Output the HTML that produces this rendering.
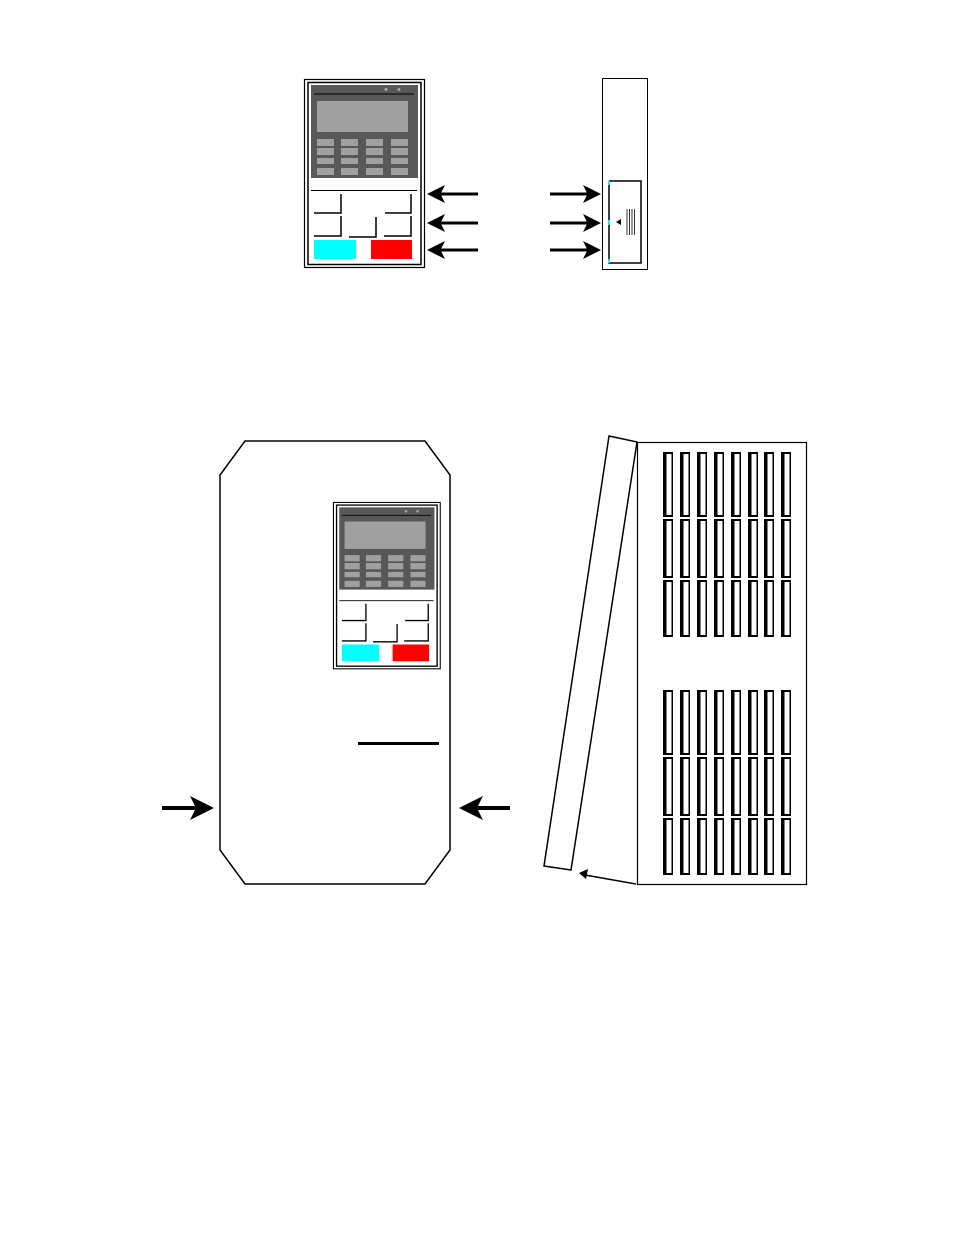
<!DOCTYPE html>
<html><head><style>body{margin:0;background:#fff}svg{display:block}</style></head>
<body>
<svg width="954" height="1235" viewBox="0 0 954 1235" xmlns="http://www.w3.org/2000/svg">
<defs>
<marker id="ah" markerWidth="6" markerHeight="6" refX="5" refY="3" orient="auto" markerUnits="strokeWidth"><path d="M0,0 L6,3 L0,6 L1.5,3 Z" fill="#000"/></marker>
<g id="kp">
  <rect x="304.5" y="79.5" width="120" height="188" fill="#fff" stroke="#000" stroke-width="1.2"/>
  <rect x="308" y="82.5" width="113" height="182" fill="none" stroke="#000" stroke-width="1.5"/>
  <rect x="311" y="85" width="107" height="93" fill="#585858"/>
  <line x1="314" y1="94" x2="414" y2="94" stroke="#000" stroke-width="1"/>
  <circle cx="386" cy="89.5" r="1.5" fill="#aaa"/><circle cx="399" cy="89.5" r="1.5" fill="#aaa"/>
  <rect x="317" y="101" width="91" height="31" fill="#a0a0a0"/>
  <g fill="#a0a0a0">
   <rect x="317" y="139" width="17" height="7"/><rect x="341" y="139" width="17" height="7"/><rect x="366" y="139" width="17" height="7"/><rect x="391" y="139" width="17" height="7"/>
   <rect x="317" y="148" width="17" height="7"/><rect x="341" y="148" width="17" height="7"/><rect x="366" y="148" width="17" height="7"/><rect x="391" y="148" width="17" height="7"/>
   <rect x="317" y="158" width="17" height="6"/><rect x="341" y="158" width="17" height="6"/><rect x="366" y="158" width="17" height="6"/><rect x="391" y="158" width="17" height="6"/>
   <rect x="317" y="168" width="17" height="7"/><rect x="341" y="168" width="17" height="7"/><rect x="366" y="168" width="17" height="7"/><rect x="391" y="168" width="17" height="7"/>
  </g>
  <line x1="311" y1="190.5" x2="417" y2="190.5" stroke="#000" stroke-width="1"/>
  <g fill="none" stroke="#000" stroke-width="1.5">
   <polyline points="314,213 341,213 341,194"/>
   <polyline points="385,213 411,213 411,194"/>
   <polyline points="314,236 341,236 341,216"/>
   <polyline points="349,237 376,237 376,217"/>
   <polyline points="384,236 411,236 411,216"/>
  </g>
  <rect x="314" y="240" width="42" height="19" fill="#00ffff"/>
  <rect x="371" y="240" width="41" height="19" fill="#ff0000"/>
</g>
<g id="col">
  <rect x="0" y="0" width="10" height="65" fill="#000"/><rect x="3.5" y="2" width="5" height="61" fill="#fff"/>
  <rect x="0" y="67" width="10" height="59" fill="#000"/><rect x="3.5" y="69" width="5" height="55" fill="#fff"/>
  <rect x="0" y="128" width="10" height="57" fill="#000"/><rect x="3.5" y="130" width="5" height="53" fill="#fff"/>
</g>
<g id="cols">
  <use href="#col" x="0"/><use href="#col" x="17"/><use href="#col" x="34"/><use href="#col" x="51"/>
  <use href="#col" x="68"/><use href="#col" x="85"/><use href="#col" x="101"/><use href="#col" x="118"/>
</g>
</defs>

<!-- top front keypad -->
<use href="#kp"/>

<!-- top arrows -->
<g stroke="#000" stroke-width="3" marker-end="url(#ah)">
  <line x1="478" y1="194" x2="430" y2="194"/>
  <line x1="478" y1="223" x2="430" y2="223"/>
  <line x1="478" y1="250" x2="430" y2="250"/>
  <line x1="550" y1="194" x2="598" y2="194"/>
  <line x1="550" y1="223" x2="598" y2="223"/>
  <line x1="550" y1="250" x2="598" y2="250"/>
</g>

<!-- top side view -->
<rect x="602.5" y="78.5" width="45" height="191" fill="none" stroke="#000" stroke-width="1"/>
<polyline points="609,181 641,181 641,263 609,263 609,181" fill="none" stroke="#000" stroke-width="1.5"/>
<g stroke="#00ffff" stroke-width="1.8"><line x1="609" y1="181" x2="609" y2="185"/><line x1="609" y1="220" x2="609" y2="225"/><line x1="609" y1="259" x2="609" y2="263"/></g>
<path d="M616,222 L621,219 L621,225 Z" fill="#000"/>
<g stroke="#000" stroke-width="0.8"><line x1="627" y1="209" x2="627" y2="235"/><line x1="629.5" y1="209" x2="629.5" y2="235"/><line x1="632" y1="209" x2="632" y2="235"/><line x1="634.5" y1="209" x2="634.5" y2="235"/></g>

<!-- big front -->
<polygon points="245,441 425,441 450,475 450,850 425,884 245,884 220,850 220,475" fill="#fff" stroke="#000" stroke-width="1.5"/>
<g transform="translate(333,502) scale(0.89,0.885) translate(-304,-79)"><use href="#kp"/></g>
<line x1="358" y1="743.5" x2="439" y2="743.5" stroke="#000" stroke-width="3"/>
<g stroke="#000" stroke-width="4" marker-end="url(#ah)">
  <line x1="162" y1="808" x2="210" y2="808"/>
  <line x1="510" y1="808" x2="463" y2="808"/>
</g>

<!-- big side -->
<polygon points="609,436 637,442 571,870 544,866" fill="#fff" stroke="#000" stroke-width="1.5"/>
<rect x="637.5" y="442.5" width="169" height="442" fill="none" stroke="#000" stroke-width="1.2"/>
<g transform="translate(663,452)"><use href="#cols"/></g>
<g transform="translate(663,690)"><use href="#cols"/></g>
<line x1="636" y1="884" x2="585" y2="875" stroke="#000" stroke-width="1.5"/>
<path d="M579,873 L588,869 L586,879 Z" fill="#000"/>
</svg>
</body></html>
